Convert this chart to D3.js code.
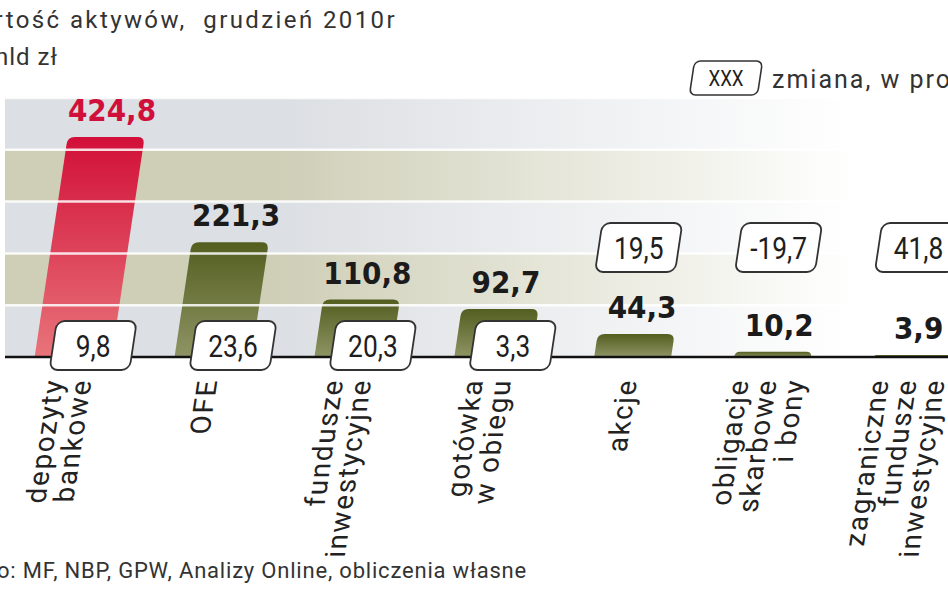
<!DOCTYPE html>
<html>
<head>
<meta charset="utf-8">
<script src="https://cdn.jsdelivr.net/npm/d3@7"></script>
<style>
  html, body { margin: 0; padding: 0; background: #fff; overflow: hidden; }
  svg { display: block; }
</style>
</head>
<body>
<div id="chart"></div>
<script>
// data
const categoryLines = [
  ["depozyty", "bankowe"],
  ["OFE"],
  ["fundusze", "inwestycyjne"],
  ["gotówka", "w obiegu"],
  ["akcje"],
  ["obligacje", "skarbowe", "i bony"],
  ["zagraniczne", "fundusze", "inwestycyjne"]
];
const categories = categoryLines.map(l => l.join(" "));
const values = [424.8, 221.3, 110.8, 92.7, 44.3, 10.2, 3.9];
const changes = [9.8, 23.6, 20.3, 3.3, 19.5, -19.7, 41.8];
const yTicks = [0, 100, 200, 300, 400, 500];

const TITLE = "Wartość aktywów,  grudzień 2010r";
const UNIT = "mld zł";
const LEGEND = "zmiana, w procentach";
const SOURCE = "Źródło: MF, NBP, GPW, Analizy Online, obliczenia własne";

const FRAME_WIDTH = 948;
const FRAME_HEIGHT = 593;
const BASE = 357;      // y of the axis line
const SKEW = 0.15;     // the whole graphic leans right
const SKEW_DEG = -Math.atan(SKEW) * 180 / Math.PI;

const pl = d3.formatLocale({ decimal: ",", thousands: " ", grouping: [3], currency: ["", " zł"], minus: "-" });
const fmt = pl.format(".1f");

const svg = d3.select("#chart")
  .append("svg")
  .attr("width", FRAME_WIDTH)
  .attr("height", FRAME_HEIGHT);

const defs = svg.append("defs");

function hGrad(id, color) {
  const g = defs.append("linearGradient")
    .attr("id", id)
    .attr("gradientUnits", "userSpaceOnUse")
    .attr("x1", 0).attr("x2", FRAME_WIDTH).attr("y1", 0).attr("y2", 0);
  g.append("stop").attr("offset", 0).attr("stop-color", color);
  g.append("stop").attr("offset", 0.3).attr("stop-color", color);
  g.append("stop").attr("offset", 0.9).attr("stop-color", "#ffffff");
}
hGrad("bandGray", "#dcdfe3");
hGrad("bandBeige", "#cfcfb8");

function vGrad(id, top, bottom) {
  const g = defs.append("linearGradient")
    .attr("id", id)
    .attr("x1", 0).attr("x2", 0).attr("y1", 0).attr("y2", 1);
  g.append("stop").attr("offset", 0).attr("stop-color", top);
  g.append("stop").attr("offset", 1).attr("stop-color", bottom);
}
vGrad("barRed", "#d20f38", "#e8747a");
vGrad("barGreen", "#535e20", "#8f9464");

const x = d3.scaleBand()
  .domain(categories)
  .range([-28.3, 1013.9])
  .paddingInner(0.45)
  .paddingOuter(0.45);

const y = d3.scaleLinear()
  .domain([0, 500])
  .range([BASE, 98]);

const sk = (px, py) => px + SKEW * (BASE - py);

// background bands
svg.selectAll(".band")
  .data(d3.pairs(yTicks))
  .enter()
  .append("rect")
  .attr("x", 5)
  .attr("width", FRAME_WIDTH - 5)
  .attr("y", d => y(d[1]))
  .attr("height", d => y(d[0]) - y(d[1]))
  .attr("fill", (d, i) => i % 2 === 1 ? "url(#bandBeige)" : "url(#bandGray)");

// bars
function barPath(i) {
  const x0 = x(categories[i]);
  const w = x.bandwidth();
  const yt = y(values[i]);
  const r = Math.min(7, BASE - yt);
  return "M" + sk(x0, BASE) + "," + BASE +
    "L" + sk(x0, yt + r) + "," + (yt + r) +
    "Q" + sk(x0, yt) + "," + yt + " " + sk(x0 + r, yt) + "," + yt +
    "L" + sk(x0 + w - r, yt) + "," + yt +
    "Q" + sk(x0 + w, yt) + "," + yt + " " + sk(x0 + w, yt + r) + "," + (yt + r) +
    "L" + sk(x0 + w, BASE) + "," + BASE + "Z";
}

svg.selectAll(".bar")
  .data(values)
  .enter()
  .append("path")
  .attr("class", "bar")
  .attr("d", (d, i) => barPath(i))
  .attr("fill", (d, i) => i === 0 ? "url(#barRed)" : "url(#barGreen)");

// white grid lines run over the bars
svg.selectAll(".grid")
  .data(yTicks.slice(1))
  .enter()
  .append("line")
  .attr("x1", 5)
  .attr("x2", FRAME_WIDTH)
  .attr("y1", d => y(d))
  .attr("y2", d => y(d))
  .attr("stroke", "#ffffff")
  .attr("stroke-opacity", 0.85)
  .attr("stroke-width", 2.5);

// axis line
svg.append("g")
  .attr("transform", "translate(0," + BASE + ")")
  .call(d3.axisBottom(x).tickSize(0).tickFormat(""))
  .call(g => g.select(".domain")
    .attr("d", "M5,0H" + FRAME_WIDTH)
    .attr("stroke", "#111")
    .attr("stroke-width", 2.5));

// value labels
svg.selectAll(".value")
  .data(values)
  .enter()
  .append("text")
  .attr("x", (d, i) => sk(x(categories[i]) + x.bandwidth() / 2, y(d) - 26) + 2)
  .attr("y", d => y(d) - 16)
  .attr("text-anchor", "middle")
  .attr("font-family", "'DejaVu Sans Condensed', 'DejaVu Sans', sans-serif")
  .attr("font-weight", "bold")
  .attr("font-size", "31px")
  .attr("fill", (d, i) => i === 0 ? "#d0103a" : "#1b1b1b")
  .text(d => fmt(d));

// change boxes
const BOX_W = 80, BOX_H = 49;
const boxes = svg.selectAll(".box")
  .data(changes)
  .enter()
  .append("g")
  .attr("transform", (d, i) => {
    const c = x(categories[i]) + x.bandwidth() / 2;
    const low = values[i] > 80;
    const cx = low ? c + 20 : c + 6;
    const cy = low ? BASE - 11.5 : 247.5;
    return "translate(" + cx + "," + cy + ")";
  });

boxes.append("rect")
  .attr("x", -BOX_W / 2)
  .attr("y", -BOX_H / 2)
  .attr("width", BOX_W)
  .attr("height", BOX_H)
  .attr("rx", 8)
  .attr("transform", "skewX(" + SKEW_DEG + ")")
  .attr("fill", "#ffffff")
  .attr("stroke", "#333")
  .attr("stroke-width", 1.8);

// narrow figures: Roboto squeezed horizontally
boxes.append("text")
  .attr("y", 11)
  .attr("transform", "scale(0.85,1)")
  .attr("text-anchor", "middle")
  .attr("font-family", "Roboto, sans-serif")
  .attr("font-size", "31px")
  .attr("fill", "#1e1e1e")
  .text(d => fmt(d));

// category labels, rotated and leaning with the chart
const LINE = 28;
const labels = svg.selectAll(".cat")
  .data(categoryLines)
  .enter()
  .append("g")
  .attr("transform", (d, i) => {
    const c = x(categories[i]) + x.bandwidth() / 2;
    const x1 = c - 6 - ((d.length - 1) * LINE - 21) / 2;
    return "translate(" + x1 + ",379) skewX(" + SKEW_DEG + ") rotate(-90)";
  });

labels.selectAll("text")
  .data(d => d)
  .enter()
  .append("text")
  .attr("x", 0)
  .attr("y", (d, j) => j * LINE)
  .attr("text-anchor", "end")
  .attr("font-family", "Roboto, sans-serif")
  .attr("font-size", "28px")
  .attr("letter-spacing", "1.6px")
  .attr("fill", "#222")
  .text(d => d);

// title, unit, legend, source (picture is cropped, so text runs off the edges)
svg.append("text")
  .attr("x", 397)
  .attr("y", 28)
  .attr("text-anchor", "end")
  .attr("font-family", "Roboto, sans-serif")
  .attr("font-size", "24px")
  .attr("letter-spacing", "2.4px")
  .attr("fill", "#333")
  .style("white-space", "pre")
  .text(TITLE);

svg.append("text")
  .attr("x", 58)
  .attr("y", 65)
  .attr("text-anchor", "end")
  .attr("font-family", "Roboto, sans-serif")
  .attr("font-size", "24px")
  .attr("letter-spacing", "1px")
  .attr("fill", "#333")
  .text(UNIT);

const legend = svg.append("g").attr("transform", "translate(726,78)");
legend.append("rect")
  .attr("x", -34).attr("y", -17)
  .attr("width", 68).attr("height", 34)
  .attr("rx", 6)
  .attr("transform", "skewX(" + SKEW_DEG + ")")
  .attr("fill", "#fff")
  .attr("stroke", "#333")
  .attr("stroke-width", 1.6);
legend.append("text")
  .attr("y", 8)
  .attr("transform", "scale(0.85,1)")
  .attr("text-anchor", "middle")
  .attr("font-family", "Roboto, sans-serif")
  .attr("font-size", "22px")
  .attr("fill", "#1e1e1e")
  .text("XXX");

svg.append("text")
  .attr("x", 772)
  .attr("y", 88)
  .attr("font-family", "Roboto, sans-serif")
  .attr("font-size", "25px")
  .attr("letter-spacing", "2px")
  .attr("fill", "#333")
  .text(LEGEND);

svg.append("text")
  .attr("x", 527)
  .attr("y", 578)
  .attr("text-anchor", "end")
  .attr("font-family", "Roboto, sans-serif")
  .attr("font-size", "22px")
  .attr("letter-spacing", "0.8px")
  .attr("fill", "#333")
  .text(SOURCE);
</script>
</body>
</html>
